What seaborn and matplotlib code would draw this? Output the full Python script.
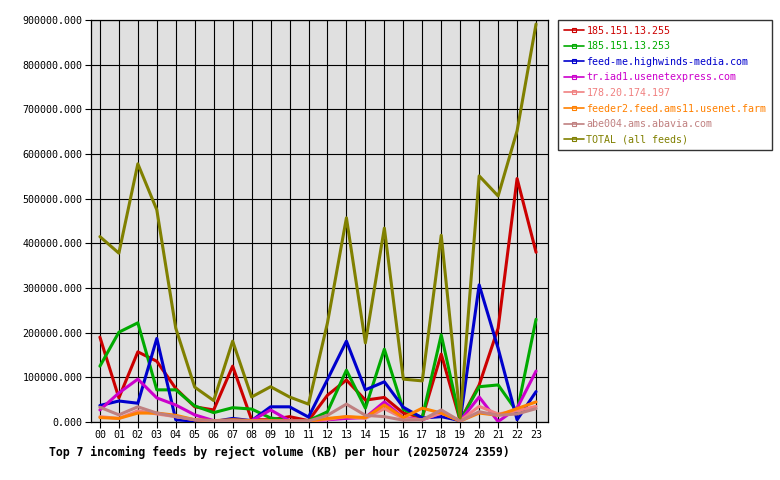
import matplotlib
matplotlib.use("Agg")
import matplotlib.pyplot as plt
import seaborn as sns
import pandas as pd
from matplotlib.lines import Line2D
from matplotlib.ticker import MultipleLocator, FuncFormatter

hours = ["00", "01", "02", "03", "04", "05", "06", "07", "08", "09", "10", "11",
         "12", "13", "14", "15", "16", "17", "18", "19", "20", "21", "22", "23"]

feeds = ["185.151.13.255", "185.151.13.253", "feed-me.highwinds-media.com",
         "tr.iad1.usenetexpress.com", "178.20.174.197", "feeder2.feed.ams11.usenet.farm",
         "abe004.ams.abavia.com", "TOTAL (all feeds)"]

colors = ["#cc0000", "#00aa00", "#0000cc", "#cc00cc", "#f08080", "#ff8000", "#c08080", "#808000"]

v_red = [190000, 54000, 157000, 136000, 75000, 34000, 27000, 125000, 5000, 5000, 12000, 3000,
         60000, 94000, 49000, 55000, 20000, 10000, 152000, 3000, 83000, 210000, 545000, 380000]
v_green = [125000, 201000, 222000, 72000, 72000, 36000, 21000, 32000, 29000, 9000, 3000, 3000,
           23000, 116000, 31000, 163000, 28000, 10000, 195000, 3000, 79000, 83000, 23000, 230000]
v_blue = [37000, 47000, 42000, 187000, 5000, 2000, 1000, 8000, 3000, 34000, 34000, 11000,
          95000, 181000, 72000, 90000, 33000, 9000, 12000, 3000, 307000, 165000, 5000, 68000]
v_magenta = [27000, 65000, 96000, 54000, 38000, 16000, 3000, 3000, 3000, 27000, 3000, 2000,
             5000, 8000, 10000, 45000, 10000, 5000, 20000, 3000, 56000, 1000, 31000, 114000]
v_pink = [12000, 8000, 25000, 18000, 12000, 5000, 2000, 4000, 3000, 3000, 2000, 2000,
          6000, 12000, 8000, 30000, 8000, 5000, 20000, 3000, 35000, 18000, 25000, 35000]
v_orange = [10000, 8000, 20000, 20000, 15000, 5000, 3000, 5000, 3000, 3000, 2000, 2000,
            8000, 12000, 10000, 38000, 10000, 31000, 20000, 2000, 20000, 15000, 30000, 45000]
v_rosy = [33000, 16000, 34000, 20000, 12000, 5000, 3000, 3000, 2000, 2000, 2000, 2000,
          15000, 40000, 15000, 12000, 4000, 5000, 27000, 2000, 23000, 15000, 18000, 30000]
v_total = [415000, 378000, 578000, 475000, 210000, 78000, 48000, 181000, 56000, 79000, 56000, 40000,
           222000, 457000, 177000, 434000, 96000, 92000, 418000, 9000, 551000, 506000, 652000, 891000]

series = [v_red, v_green, v_blue, v_magenta, v_pink, v_orange, v_rosy, v_total]

rows = []
for name, vals in zip(feeds, series):
    for i, v in enumerate(vals):
        rows.append({"hour": i, "feed": name, "kb": v})
df = pd.DataFrame(rows)

sns.set_theme(style="white")
plt.rcParams["font.family"] = ["DejaVu Sans Mono", "DejaVu Sans"]

fig = plt.figure(figsize=(7.8, 4.8), dpi=100)
ax = fig.add_axes([91 / 780, 1 - 422 / 480, (548 - 91) / 780, (422 - 20) / 480])
ax.set_facecolor("#e0e0e0")

sns.lineplot(data=df, x="hour", y="kb", hue="feed", hue_order=feeds,
             palette=dict(zip(feeds, colors)), linewidth=2.2, ax=ax,
             legend=False, zorder=3, estimator=None)

ax.set_xlim(-0.47, 23.63)
ax.set_ylim(0, 900000)
ax.set_xticks(range(24))
ax.set_xticklabels(hours)
ax.yaxis.set_major_locator(MultipleLocator(100000))
ax.yaxis.set_major_formatter(FuncFormatter(lambda v, p: f"{v:.3f}"))
ax.grid(True, color="black", linewidth=0.8, zorder=1)
ax.set_axisbelow(True)
for s in ax.spines.values():
    s.set_color("black")
    s.set_linewidth(0.9)
ax.tick_params(axis="both", direction="out", length=4, width=0.8, color="black",
               labelsize=7.2, labelcolor="black", pad=2, left=True, bottom=True)
ax.set_xlabel("")
ax.set_ylabel("")

fig.text(49 / 780, 1 - 452 / 480, "Top 7 incoming feeds by reject volume (KB) per hour (20250724 2359)",
         fontsize=8.3, fontweight="bold", ha="left", va="center", color="black")

handles = [Line2D([0], [0], color=c, linewidth=1.2, marker="s", markersize=3,
                  markerfacecolor="none", markeredgewidth=0.8) for c in colors]
leg = fig.legend(handles, feeds, loc="upper left", bbox_to_anchor=(558 / 780, 1 - 20 / 480),
                 frameon=True, fancybox=False, edgecolor="black", fontsize=7.2,
                 handlelength=2.0, handletextpad=0.3, borderpad=0.55, labelspacing=0.56,
                 borderaxespad=0)
leg.get_frame().set_linewidth(1.0)
for t, c in zip(leg.get_texts(), colors):
    t.set_color(c)

fig.savefig("out.png", dpi=100, facecolor="white")
